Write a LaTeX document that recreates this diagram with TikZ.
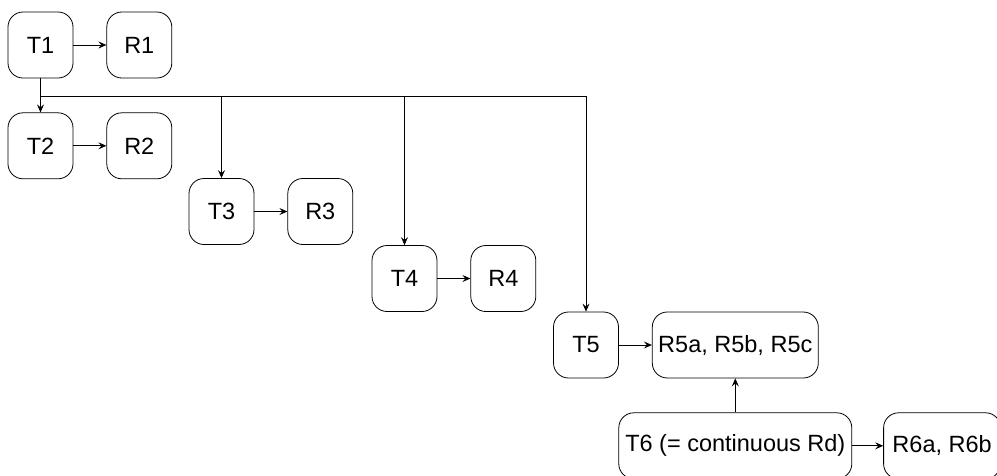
\documentclass[tikz,border=0pt]{standalone}
\usepackage{fontspec}
\setmainfont{Liberation Sans}
\usetikzlibrary{arrows.meta,positioning}

\begin{document}
\begin{tikzpicture}[
  x=1pt, y=-1pt,
  node distance=34pt and 33pt,
  stage/.style={draw, rounded corners=15pt, align=center, inner sep=2pt,
                minimum width=65pt, minimum height=66pt, line width=0.8pt,
                font=\fontsize{23.5}{28}\selectfont},
  link/.style={->, line width=0.8pt},
  >={Stealth[length=8pt, width=7pt, inset=3pt]}]
\useasboundingbox (0,0) rectangle (997,475);
\node[stage] (T1) at (40.5,45) {T1};
\node[stage, right=of T1] (R1) {R1};
\node[stage, below=of T1] (T2) {T2};
\node[stage, right=of T2] (R2) {R2};
\node[stage] (T3) at (221.5,211.5) {T3};
\node[stage, right=of T3] (R3) {R3};
\node[stage] (T4) at (404.5,278.5) {T4};
\node[stage, right=of T4] (R4) {R4};
\node[stage] (T5) at (586,345) {T5};
\node[stage, right=of T5, minimum width=166pt] (R5) {R5a, R5b, R5c};
\node[stage, below=of R5, minimum width=233pt] (T6) {T6 (= continuous Rd)};
\node[stage, right=31pt of T6, minimum width=117pt] (R6) {R6a, R6b};
% results of each stage
\draw[link] (T1) -- (R1); \draw[link] (T2) -- (R2); \draw[link] (T3) -- (R3);
\draw[link] (T4) -- (R4); \draw[link] (T5) -- (R5); \draw[link] (T6) -- (R6);
\draw[link] (T6) -- (R5);
% branches from T1
\draw[link] (T1.south) -- (T2.north);
\draw[link] (T1.south) -- ++(0,18) -| (T3.north);
\draw[link] (T1.south) -- ++(0,18) -| (T4.north);
\draw[link] (T1.south) -- ++(0,18) -| (T5.north);
\end{tikzpicture}
\end{document}
